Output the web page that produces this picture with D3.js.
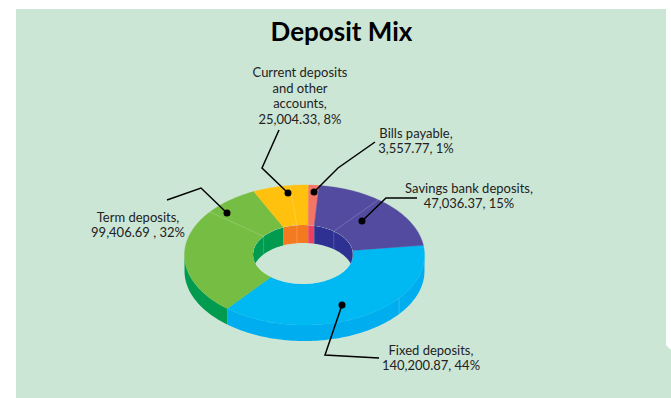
<!DOCTYPE html>
<html>
<head>
<meta charset="utf-8">
<script src="https://cdn.jsdelivr.net/npm/d3@7"></script>
<style>
  html, body { margin: 0; padding: 0; background: #fff; }
  text { font-family: Lato, sans-serif; fill: #222; }
</style>
</head>
<body>
<div id="chart"></div>
<script>
// data, in drawing order starting from the east edge going clockwise
var categories = ["Fixed deposits", "Term deposits", "Current deposits and other accounts", "Bills payable", "Savings bank deposits"];
var amounts = [140200.87, 99406.69, 25004.33, 3557.77, 47036.37];
var percents = [44, 32, 8, 1, 15];
// the slices in the picture are not drawn to scale, so these are the
// sweep of each slice in degrees (outer and hole edge)
var sweepDegrees = [138, 115, 27, 5, 75];
var holeSweepDegrees = [138, 117, 29, 7, 69];
var seamDegrees = [142, 97, 52];
var sideSeamDegrees = [-38];

var topColors = ["#00b9f2", "#76bd43", "#ffc10e", "#f47466", "#534b9f"];
var sideColors = ["#00aeef", "#009b4e", "#f47a20", "#ee3f5f", "#2e3192"];

var width = 671, height = 398;
var ring = {cx: 304.5, cy: 255, rx: 120, ry: 70, hx: 50, hy: 29.5, hcx: 303, hcy: 254.5, depth: 16, wall: 18};

var svg = d3.select("#chart").append("svg")
    .attr("width", width)
    .attr("height", height)
    .style("display", "block");

var line = d3.line();

// panel, with the small step on its right edge
svg.append("path")
    .attr("d", line([[16, 9], [666, 9], [666, 345], [671, 350], [671, 398], [16, 398]]) + "Z")
    .attr("fill", "#cce6d6");

svg.append("text")
    .attr("x", 341.5).attr("y", 41)
    .attr("text-anchor", "middle")
    .style("font-size", "26px")
    .style("font-weight", 700)
    .style("fill", "#000")
    .text("Deposit Mix");

// pie angles: 0 is east, going clockwise on screen
var pie = d3.pie().sort(null)
    .startAngle(-8 * Math.PI / 180)
    .endAngle(352 * Math.PI / 180)
    .value(function(d) { return d; });
var slices = pie(sweepDegrees);
var holeSlices = pie(holeSweepDegrees);

function outerPt(a, dy) { return [ring.cx + ring.rx * Math.cos(a), ring.cy + ring.ry * Math.sin(a) + (dy || 0)]; }
function innerPt(a, dy) { return [ring.hcx + ring.hx * Math.cos(a), ring.hcy + ring.hy * Math.sin(a) + (dy || 0)]; }

function steps(a0, a1) {
  var n = Math.max(2, Math.ceil(Math.abs(a1 - a0) * 40));
  return d3.range(n + 1).map(function(i) { return a0 + (a1 - a0) * i / n; });
}

// outer side wall, front half only
slices.forEach(function(s, i) {
  var a0 = Math.max(s.startAngle, 0), a1 = Math.min(s.endAngle, Math.PI);
  if (a1 <= a0) return;
  var pts = steps(a0, a1).map(function(a) { return outerPt(a); })
    .concat(steps(a1, a0).map(function(a) { return outerPt(a, ring.depth); }));
  svg.append("path").attr("d", line(pts) + "Z").attr("fill", sideColors[i]);
});

// top face
slices.forEach(function(s, i) {
  var h = holeSlices[i];
  var pts = steps(s.startAngle, s.endAngle).map(function(a) { return outerPt(a); })
    .concat(steps(h.endAngle, h.startAngle).map(function(a) { return innerPt(a); }));
  svg.append("path").attr("d", line(pts) + "Z").attr("fill", topColors[i])
    .attr("stroke", topColors[i]).attr("stroke-width", 0.4);
});

// hole: background, then the far inner wall clipped to it
svg.append("clipPath").attr("id", "hole").append("ellipse")
    .attr("cx", ring.hcx).attr("cy", ring.hcy).attr("rx", ring.hx).attr("ry", ring.hy);
svg.append("ellipse")
    .attr("cx", ring.hcx).attr("cy", ring.hcy).attr("rx", ring.hx).attr("ry", ring.hy)
    .attr("fill", "#cce6d6");
var wall = svg.append("g").attr("clip-path", "url(#hole)");
holeSlices.forEach(function(s, i) {
  var a0 = s.startAngle, a1 = s.endAngle;
  // only the part behind the hole centre shows
  var ranges = [[Math.max(a0, Math.PI), Math.min(a1, 2 * Math.PI)], [Math.max(a0, -Math.PI), Math.min(a1, 0)]];
  ranges.forEach(function(r) {
    if (r[1] <= r[0]) return;
    var pts = steps(r[0], r[1]).map(function(a) { return innerPt(a); })
      .concat(steps(r[1], r[0]).map(function(a) { return innerPt(a, ring.wall); }));
    wall.append("path").attr("d", line(pts) + "Z").attr("fill", i === 0 ? sideColors[4] : sideColors[i]);
  });
});

// faint seams left in the artwork
seamDegrees.forEach(function(d) {
  var a = -d * Math.PI / 180;
  var o = outerPt(a), n = innerPt(a);
  svg.append("line").attr("x1", o[0]).attr("y1", o[1]).attr("x2", n[0]).attr("y2", n[1])
    .attr("stroke", "#fff").attr("stroke-opacity", 0.3).attr("stroke-width", 0.6);
  wall.append("line").attr("x1", n[0]).attr("y1", n[1]).attr("x2", n[0]).attr("y2", n[1] + ring.wall)
    .attr("stroke", "#fff").attr("stroke-opacity", 0.3).attr("stroke-width", 0.6);
});
sideSeamDegrees.forEach(function(d) {
  var a = -d * Math.PI / 180;
  var o = outerPt(a);
  svg.append("line").attr("x1", o[0]).attr("y1", o[1]).attr("x2", o[0]).attr("y2", o[1] + ring.depth)
    .attr("stroke", "#fff").attr("stroke-opacity", 0.3).attr("stroke-width", 0.6);
});

// leader lines, same order as categories
var leaders = [
  [[342, 305], [325, 355], [379, 358]],
  [[227, 213], [201, 188], [167, 200]],
  [[288, 193], [262, 168], [279, 130]],
  [[314, 192], [338, 168], [375, 142]],
  [[362, 221], [386, 198], [417, 198]]
];
var labelSpots = [[431, 354.5], [138, 221.5], [300, 77], [416, 137.5], [469, 192.5]];
var labelLines = categories.map(function(c, i) {
  var v = d3.format(",.2f")(amounts[i]) + (i === 1 ? " , " : ", ") + percents[i] + "%";
  if (i === 2) return ["Current deposits", "and other", "accounts,", v];
  return [c + ",", v];
});

leaders.forEach(function(pts) {
  svg.append("path").attr("d", line(pts)).attr("fill", "none").attr("stroke", "#000").attr("stroke-width", 1.5);
  svg.append("circle").attr("cx", pts[0][0]).attr("cy", pts[0][1]).attr("r", 3.5).attr("fill", "#000");
});

labelLines.forEach(function(lines, i) {
  var t = svg.append("text")
      .attr("text-anchor", "middle")
      .style("font-size", "13px");
  lines.forEach(function(l, j) {
    t.append("tspan").attr("x", labelSpots[i][0]).attr("y", labelSpots[i][1] + j * 15.5).text(l);
  });
});
</script>
</body>
</html>
